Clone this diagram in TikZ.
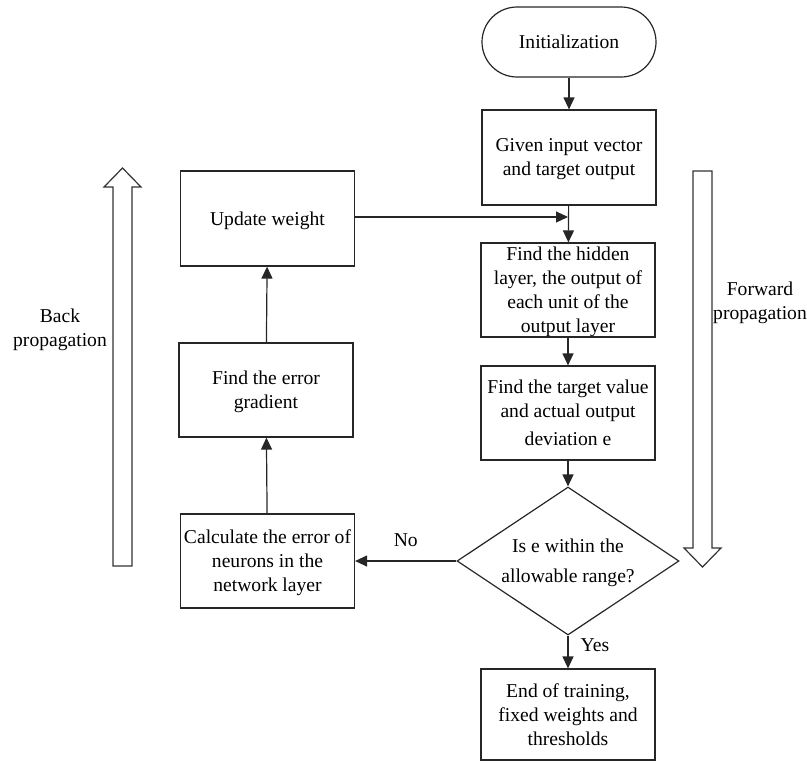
\documentclass[tikz,border=0pt]{standalone}
\usepackage{fontspec}
\setmainfont{Liberation Serif}
\usetikzlibrary{arrows.meta,shapes.geometric}
\begin{document}
\begin{tikzpicture}[x=0.5pt,y=-0.5pt,
  font=\fontsize{9.8}{12}\selectfont,
  box/.style={draw=black!85,line width=0.6pt,align=center,inner sep=0pt,minimum width=87pt,minimum height=47pt,text depth=-1.5pt},
  conn/.style={draw=black!85,line width=0.6pt,-{Triangle[length=6pt,width=5.5pt]}},
  hollow/.style={draw=black!80,line width=0.6pt,fill=white,line join=miter},
  lbl/.style={align=center,inner sep=0pt}]
\useasboundingbox (0,0) rectangle (807,762);
% right column
\node[box,rounded corners=17.5pt,minimum height=35pt] (init) at (569,42) {Initialization};
\node[box,minimum height=47.5pt] (given) at (569,157.5) {Given input vector\\and target output};
\node[box] (hidden) at (568,290) {Find the hidden\\layer, the output of\\each unit of the\\output layer};
\node[box] (target) at (568,413) {Find the target value\\and actual output\\[2pt]deviation e};
\node[draw=black!85,line width=0.6pt,shape=diamond,aspect=1.5,minimum width=111pt,minimum height=74pt,inner sep=0pt,align=center,text depth=-1.5pt,font=\fontsize{9.8}{15}\selectfont] (dec) at (568,561) {Is e within the\\allowable range?};
\node[box,minimum height=45.5pt] (end) at (568,714.5) {End of training,\\fixed weights and\\thresholds};
% left column
\node[box,minimum height=47.5pt] (upd) at (267.5,218.5) {Update weight};
\node[box] (grad) at (266,390) {Find the error\\gradient};
\node[box] (calc) at (267.5,561) {Calculate the error of\\neurons in the\\network layer};
% connectors
\draw[conn] (init) -- (given);
\draw[conn] (given) -- (hidden);
\coordinate (join) at (568,217);
\draw[conn] (upd.east |- join) -- (join);
\draw[conn] (hidden) -- (target);
\draw[conn] (target) -- (dec);
\draw[conn] (dec.south) -- (end.north) node[lbl,pos=0.3,right=6pt] (yes) {Yes};
\draw[conn] (dec.west) -- (calc.east) node[lbl,midway,above=7pt] (no) {No};
\draw[conn] (calc) -- (grad);
\draw[conn] (grad) -- (upd);
% hollow arrows
\draw[hollow] (113,566) -- (113,187) -- (104,187) -- (122.5,168) -- (141,187) -- (132,187) -- (132,566) -- cycle;
\draw[hollow] (693,171) -- (712,171) -- (712,548) -- (721,548) -- (702.5,567) -- (684,548) -- (693,548) -- cycle;
\node[lbl] (back) at (60,330) {Back\\propagation};
\node[lbl] (fwd) at (760,303) {Forward\\propagation};
\end{tikzpicture}
\end{document}
